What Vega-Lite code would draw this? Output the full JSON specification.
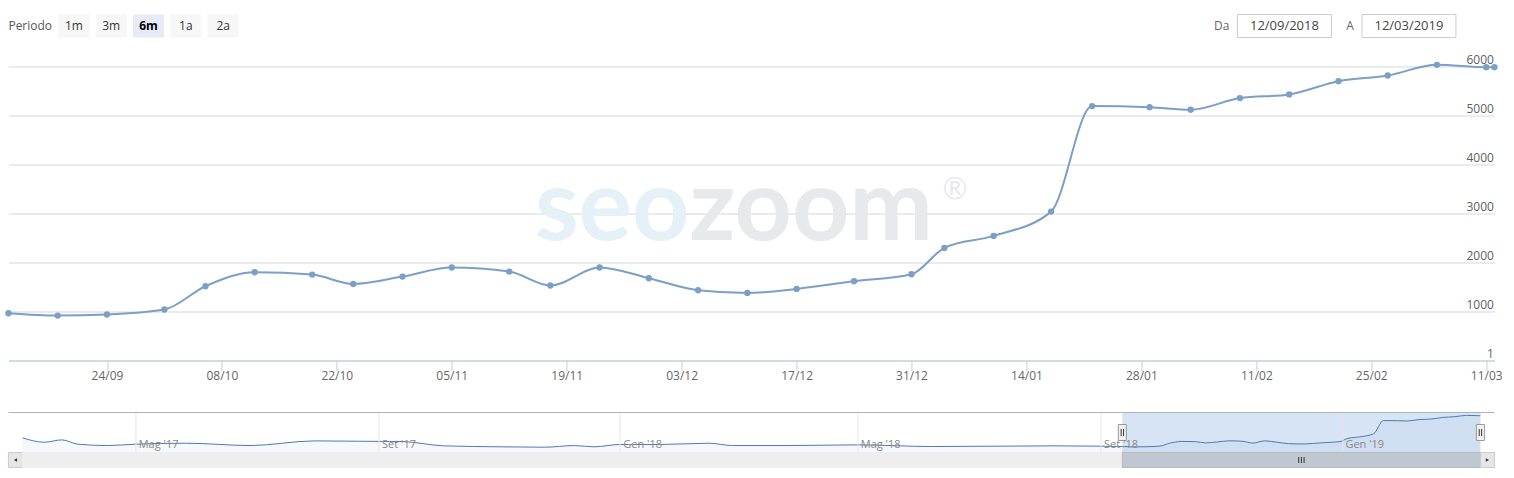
{
  "$schema": "https://vega.github.io/schema/vega-lite/v6.json",
  "background": "white",
  "padding": {"left": 4.43, "top": 13.5, "right": 0, "bottom": 0},
  "config": {
    "view": {"stroke": null},
    "font": "Open Sans",
    "text": {"font": "Open Sans"},
    "axis": {"labelFont": "Open Sans"}
  },
  "datasets": {
    "series": [
      {"date": "2017-03-05", "value": 2380},
      {"date": "2017-03-16", "value": 1670},
      {"date": "2017-03-25", "value": 2050},
      {"date": "2017-04-02", "value": 1350},
      {"date": "2017-04-17", "value": 1130},
      {"date": "2017-05-01", "value": 1350},
      {"date": "2017-05-27", "value": 1510},
      {"date": "2017-06-28", "value": 1130},
      {"date": "2017-07-31", "value": 1890},
      {"date": "2017-08-22", "value": 1830},
      {"date": "2017-09-13", "value": 1780},
      {"date": "2017-10-04", "value": 1080},
      {"date": "2017-11-03", "value": 920},
      {"date": "2017-11-24", "value": 860},
      {"date": "2017-12-09", "value": 1130},
      {"date": "2017-12-19", "value": 920},
      {"date": "2018-01-01", "value": 1300},
      {"date": "2018-01-21", "value": 1300},
      {"date": "2018-02-15", "value": 1510},
      {"date": "2018-02-27", "value": 1130},
      {"date": "2018-03-27", "value": 1130},
      {"date": "2018-05-01", "value": 1240},
      {"date": "2018-06-08", "value": 970},
      {"date": "2018-08-09", "value": 1080},
      {"date": "2018-09-01", "value": 1030},
      {"date": "2018-09-12", "value": 965},
      {"date": "2018-09-18", "value": 918},
      {"date": "2018-09-24", "value": 939},
      {"date": "2018-10-01", "value": 1041},
      {"date": "2018-10-06", "value": 1516},
      {"date": "2018-10-12", "value": 1802},
      {"date": "2018-10-19", "value": 1755},
      {"date": "2018-10-24", "value": 1563},
      {"date": "2018-10-30", "value": 1714},
      {"date": "2018-11-05", "value": 1898},
      {"date": "2018-11-12", "value": 1816},
      {"date": "2018-11-17", "value": 1531},
      {"date": "2018-11-23", "value": 1898},
      {"date": "2018-11-29", "value": 1680},
      {"date": "2018-12-05", "value": 1435},
      {"date": "2018-12-11", "value": 1380},
      {"date": "2018-12-17", "value": 1461},
      {"date": "2018-12-24", "value": 1618},
      {"date": "2018-12-31", "value": 1761},
      {"date": "2019-01-04", "value": 2299},
      {"date": "2019-01-10", "value": 2543},
      {"date": "2019-01-17", "value": 3039},
      {"date": "2019-01-22", "value": 5192},
      {"date": "2019-01-29", "value": 5171},
      {"date": "2019-02-03", "value": 5117},
      {"date": "2019-02-09", "value": 5355},
      {"date": "2019-02-15", "value": 5430},
      {"date": "2019-02-21", "value": 5701},
      {"date": "2019-02-27", "value": 5817},
      {"date": "2019-03-05", "value": 6034},
      {"date": "2019-03-11", "value": 5986},
      {"date": "2019-03-12", "value": 5986}
    ],
    "range": [
      {"label": "Da", "date": "2018-09-12"},
      {"label": "A", "date": "2019-03-12"}
    ],
    "buttons": [
      {"label": "1m", "selected": false},
      {"label": "3m", "selected": false},
      {"label": "6m", "selected": true},
      {"label": "1a", "selected": false},
      {"label": "2a", "selected": false}
    ],
    "title": [{"text": "Periodo"}],
    "brand": [{"name": "seozoom"}],
    "frame": [{"edge": "top"}]
  },
  "vconcat": [
    {
      "hconcat": [
        {
          "hconcat": [
            {
              "width": 44,
              "height": 23,
              "data": {"name": "title"},
              "mark": {"type": "text", "align": "left", "dx": -22, "fontSize": 12, "color": "#555555"},
              "encoding": {"text": {"field": "text"}}
            },
            {
              "width": 180.2,
              "height": 23,
              "data": {"name": "buttons"},
              "encoding": {
                "x": {"field": "label", "type": "nominal", "sort": null, "scale": {"type": "band", "paddingInner": 0.169, "paddingOuter": 0}, "axis": null}
              },
              "layer": [
                {
                  "mark": {"type": "rect"},
                  "encoding": {"color": {"condition": {"test": "datum.selected", "value": "#e6ebf5"}, "value": "#f7f7f7"}}
                },
                {
                  "transform": [{"filter": "!datum.selected"}],
                  "mark": {"type": "text", "fontSize": 12, "color": "#333333"},
                  "encoding": {"text": {"field": "label"}}
                },
                {
                  "transform": [{"filter": "datum.selected"}],
                  "mark": {"type": "text", "fontSize": 12, "fontWeight": "bold", "color": "#000000"},
                  "encoding": {"text": {"field": "label"}}
                }
              ]
            }
          ],
          "spacing": 6,
          "bounds": "flush"
        },
        {
          "width": 249,
          "height": 23,
          "data": {"name": "range"},
          "encoding": {
            "x": {"field": "label", "type": "nominal", "sort": null, "scale": {"type": "band", "paddingInner": 0.245, "paddingOuter": 0.1225}, "axis": null}
          },
          "layer": [
            {"mark": {"type": "rect", "fill": "white", "stroke": "#cccccc", "strokeWidth": 1}},
            {
              "mark": {"type": "text", "fontSize": 13, "color": "#444444"},
              "encoding": {"text": {"field": "date", "type": "temporal", "timeUnit": "utcyearmonthdate", "format": "%d/%m/%Y"}}
            },
            {
              "mark": {"type": "text", "fontSize": 12, "color": "#666666", "align": "right", "dx": -8},
              "encoding": {
                "x": {"field": "label", "type": "nominal", "sort": null, "bandPosition": 0},
                "text": {"field": "label"}
              }
            }
          ]
        }
      ],
      "spacing": 1213.75,
      "bounds": "flush"
    },
    {
      "vconcat": [
        {
          "width": 1486,
          "height": 294,
          "data": {"name": "series"},
          "layer": [
            {
              "data": {"name": "brand"},
              "mark": {"type": "text", "text": "seo", "align": "right", "baseline": "alphabetic", "dx": -62, "dy": 27, "font": "Lato", "fontWeight": "bold", "fontSize": 100, "color": "#e5f1f7"},
              "encoding": {}
            },
            {
              "data": {"name": "brand"},
              "mark": {"type": "text", "text": "zoom", "align": "left", "baseline": "alphabetic", "dx": -62, "dy": 27, "font": "Lato", "fontWeight": "bold", "fontSize": 100, "color": "#e8e9eb"},
              "encoding": {}
            },
            {
              "data": {"name": "brand"},
              "mark": {"type": "text", "text": "®", "align": "left", "baseline": "alphabetic", "dx": 191, "dy": -15, "font": "Lato", "fontSize": 30, "color": "#e8e9eb"},
              "encoding": {}
            },
            {
              "transform": [{"filter": {"field": "date", "gte": {"year": 2018, "month": 9, "date": 12, "utc": true}}}],
              "encoding": {
                "x": {
                  "field": "date",
                  "type": "temporal",
                  "scale": {"type": "utc", "domain": [{"year": 2018, "month": 9, "date": 12, "utc": true}, {"year": 2019, "month": 3, "date": 12, "utc": true}]},
                  "axis": {
                    "values": [
                      {"year": 2018, "month": 9, "date": 24, "utc": true},
                      {"year": 2018, "month": 10, "date": 8, "utc": true},
                      {"year": 2018, "month": 10, "date": 22, "utc": true},
                      {"year": 2018, "month": 11, "date": 5, "utc": true},
                      {"year": 2018, "month": 11, "date": 19, "utc": true},
                      {"year": 2018, "month": 12, "date": 3, "utc": true},
                      {"year": 2018, "month": 12, "date": 17, "utc": true},
                      {"year": 2018, "month": 12, "date": 31, "utc": true},
                      {"year": 2019, "month": 1, "date": 14, "utc": true},
                      {"year": 2019, "month": 1, "date": 28, "utc": true},
                      {"year": 2019, "month": 2, "date": 11, "utc": true},
                      {"year": 2019, "month": 2, "date": 25, "utc": true},
                      {"year": 2019, "month": 3, "date": 11, "utc": true}
                    ],
                    "format": "%d/%m",
                    "labelFontSize": 12,
                    "labelColor": "#666666",
                    "domainColor": "#c0d0e0",
                    "tickColor": "#c0d0e0",
                    "tickSize": 10,
                    "labelPadding": 0,
                    "grid": false,
                    "title": null,
                    "labelFlush": false,
                    "labelOverlap": false
                  }
                },
                "y": {
                  "field": "value",
                  "type": "quantitative",
                  "scale": {"domain": [1, 6000], "nice": false, "zero": false},
                  "axis": {
                    "orient": "right",
                    "values": [1, 1000, 2000, 3000, 4000, 5000, 6000],
                    "format": "d",
                    "domain": false,
                    "ticks": false,
                    "tickSize": 0,
                    "grid": true,
                    "gridColor": {"condition": {"test": "datum.value === 1", "value": "#c0d0e0"}, "value": "#d8d8d8"},
                    "labelAlign": "right",
                    "labelBaseline": "alphabetic",
                    "labelOffset": -3,
                    "labelPadding": -1,
                    "labelFontSize": 12,
                    "labelColor": "#606060",
                    "title": null,
                    "labelFlush": false,
                    "labelOverlap": false
                  }
                }
              },
              "layer": [
                {"mark": {"type": "line", "interpolate": "monotone", "color": "#7b9fc5", "strokeWidth": 2}},
                {"mark": {"type": "point", "filled": true, "size": 40, "color": "#7b9fc5", "opacity": 1}}
              ]
            }
          ]
        },
        {
          "vconcat": [
            {
              "width": 1486,
              "height": 40,
              "layer": [
                {
                  "data": {"name": "range"},
                  "mark": {"type": "rect", "color": "#d6e4f5"},
                  "encoding": {
                    "x": {"aggregate": "min", "field": "date", "type": "temporal", "scale": {"type": "utc", "domain": [{"year": 2017, "month": 2, "date": 25, "hours": 22, "utc": true}, {"year": 2019, "month": 3, "date": 19, "hours": 2, "utc": true}]}},
                    "x2": {"aggregate": "max", "field": "date"}
                  }
                },
                {
                  "data": {"name": "series"},
                  "encoding": {
                    "x": {
                      "field": "date",
                      "type": "temporal",
                      "scale": {"type": "utc", "domain": [{"year": 2017, "month": 2, "date": 25, "hours": 22, "utc": true}, {"year": 2019, "month": 3, "date": 19, "hours": 2, "utc": true}]},
                      "axis": {
                        "values": [
                          {"year": 2017, "month": 5, "date": 1, "utc": true},
                          {"year": 2017, "month": 9, "date": 1, "utc": true},
                          {"year": 2018, "month": 1, "date": 1, "utc": true},
                          {"year": 2018, "month": 5, "date": 1, "utc": true},
                          {"year": 2018, "month": 9, "date": 1, "utc": true},
                          {"year": 2019, "month": 1, "date": 1, "utc": true}
                        ],
                        "labelExpr": "(utcmonth(datum.value) == 0 ? 'Gen' : utcmonth(datum.value) == 4 ? 'Mag' : 'Set') + \" '\" + utcFormat(datum.value, '%y')",
                        "grid": true,
                        "gridColor": "#e6e6e6",
                        "domain": false,
                        "ticks": false,
                        "tickSize": 0,
                        "labelPadding": -8,
                        "labelBaseline": "middle",
                        "labelAlign": "left",
                        "labelOffset": 3,
                        "labelFontSize": 11,
                        "labelColor": "#888888",
                        "title": null,
                        "labelFlush": false,
                        "labelOverlap": false,
                        "zindex": 1
                      }
                    },
                    "y": {"field": "value", "type": "quantitative", "scale": {"domain": [0, 6500], "nice": false}, "axis": null}
                  },
                  "layer": [
                    {"mark": {"type": "area", "interpolate": "monotone", "color": "#4572a7", "opacity": 0.05}},
                    {"mark": {"type": "line", "interpolate": "monotone", "color": "#4d79b0", "strokeWidth": 1}}
                  ]
                },
                {
                  "data": {"name": "frame"},
                  "mark": {"type": "rule", "color": "#b2b2b2", "strokeWidth": 1},
                  "encoding": {"y": {"datum": 6500, "type": "quantitative"}}
                },
                {
                  "data": {"name": "range"},
                  "mark": {"type": "point", "shape": "M-0.5,-1H0.5V1H-0.5Z", "size": 256, "filled": true, "fill": "#f2f2f2", "stroke": "#999999", "strokeWidth": 1, "opacity": 1},
                  "encoding": {"x": {"field": "date", "type": "temporal"}}
                },
                {
                  "data": {"name": "range"},
                  "mark": {"type": "point", "shape": "M-0.15,-0.45V0.45M0.15,-0.45V0.45", "size": 256, "filled": false, "color": "#333333", "strokeWidth": 1, "opacity": 1},
                  "encoding": {"x": {"field": "date", "type": "temporal"}}
                }
              ]
            },
            {
              "hconcat": [
                {
                  "width": 14,
                  "height": 15,
                  "data": {"name": "frame"},
                  "layer": [
                    {"mark": {"type": "rect", "fill": "#e6e6e6", "stroke": "#cccccc"}, "encoding": {}},
                    {"mark": {"type": "point", "shape": "triangle-left", "size": 14, "filled": true, "color": "#333333", "opacity": 1}, "encoding": {}}
                  ]
                },
                {
                  "width": 1458,
                  "height": 15,
                  "layer": [
                    {"data": {"name": "frame"}, "mark": {"type": "rect", "fill": "#eeeeee", "stroke": "#eeeeee"}, "encoding": {}},
                    {
                      "data": {"name": "range"},
                      "mark": {"type": "rect", "fill": "#bfc8d1", "stroke": "#bbbbbb"},
                      "encoding": {
                        "x": {"aggregate": "min", "field": "date", "type": "temporal", "scale": {"type": "utc", "domain": [{"year": 2017, "month": 3, "date": 5, "utc": true}, {"year": 2019, "month": 3, "date": 12, "utc": true}]}, "axis": null},
                        "x2": {"aggregate": "max", "field": "date"}
                      }
                    },
                    {
                      "data": {"name": "range"},
                      "mark": {"type": "point", "shape": "M-0.45,-0.5V0.5M0,-0.5V0.5M0.45,-0.5V0.5", "size": 144, "filled": false, "color": "#333333", "strokeWidth": 1, "opacity": 1},
                      "encoding": {"x": {"aggregate": "mean", "field": "date", "type": "temporal"}}
                    }
                  ]
                },
                {
                  "width": 14,
                  "height": 15,
                  "data": {"name": "frame"},
                  "layer": [
                    {"mark": {"type": "rect", "fill": "#e6e6e6", "stroke": "#cccccc"}, "encoding": {}},
                    {"mark": {"type": "point", "shape": "triangle-right", "size": 14, "filled": true, "color": "#333333", "opacity": 1}, "encoding": {}}
                  ]
                }
              ],
              "spacing": 0,
              "bounds": "flush"
            }
          ],
          "spacing": 0,
          "bounds": "flush"
        }
      ],
      "spacing": 52,
      "bounds": "flush"
    }
  ],
  "spacing": 52,
  "bounds": "flush"
}
